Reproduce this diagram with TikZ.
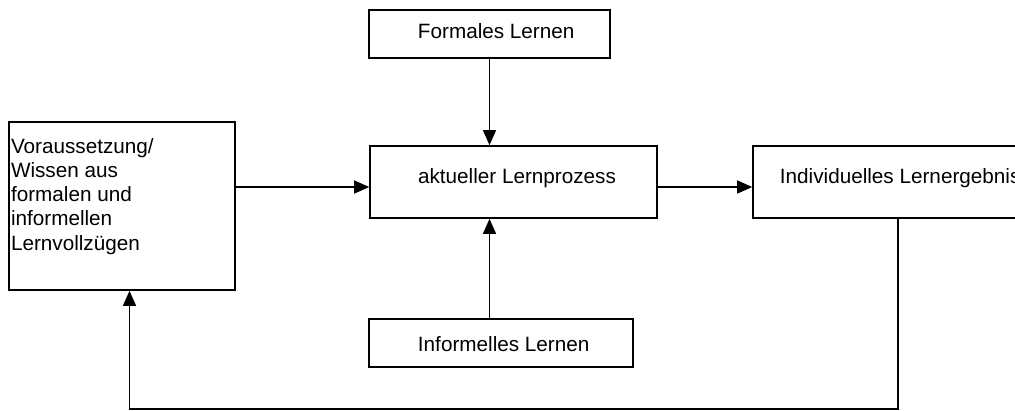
\documentclass[tikz,border=0pt]{standalone}
\usepackage{fontspec}
\setmainfont{Liberation Sans}
\usetikzlibrary{arrows.meta,calc}
\begin{document}
\begin{tikzpicture}[x=1pt,y=-1pt,
  box/.style={draw=black,line width=1.6pt,rectangle,inner sep=0pt,
    font=\fontsize{20.7}{24.3}\selectfont},
  conn/.style={line width=1.3pt,draw=black},
  arr/.style={conn,-{Triangle[length=15pt,width=13pt]}}]
\useasboundingbox (0,0) rectangle (1015,410);
% boxes
\node[box,minimum width=241pt,minimum height=48pt,text height=14pt,text depth=6pt]
  (F) at (489.5,34) {\hspace*{13.4pt}Formales Lernen};
\node[box,minimum width=287pt,minimum height=72pt,text height=14pt,text depth=12pt]
  (A) at (513.5,182) {\hspace*{7pt}aktueller Lernprozess};
\node[box,minimum width=264pt,minimum height=48pt,text height=16pt,text depth=0pt]
  (I) at (501,343) {\hspace*{5.4pt}Informelles Lernen};
\node[box,minimum width=277pt,minimum height=72pt,text height=14pt,text depth=12pt]
  (R) at (891.5,182) {\hspace*{17.4pt}Individuelles Lernergebnis};
\node[box,minimum width=226pt,minimum height=168pt]
  (L) at (122,206) {\parbox[c][168pt][t]{222pt}{\raggedright\vspace*{16pt}Voraussetzung/\\Wissen aus\\formalen und\\informellen\\Lernvollzügen}};
% connectors
\coordinate (rowA) at ($(A.west)+(0,5)$);
\draw[arr] (F.south) -- (F.south |- A.north);
\draw[arr] (F.south |- I.north) -- (F.south |- A.south);
\draw[arr] (L.east |- rowA) -- (rowA);
\draw[arr] (A.east |- rowA) -- (R.west |- rowA);
\coordinate (fbR) at (898,409);
\coordinate (fbL) at (129.5,409);
\draw[arr] (R.south -| fbR) -- (fbR) -- (fbL) -- (L.south -| fbL);
\end{tikzpicture}
\end{document}
